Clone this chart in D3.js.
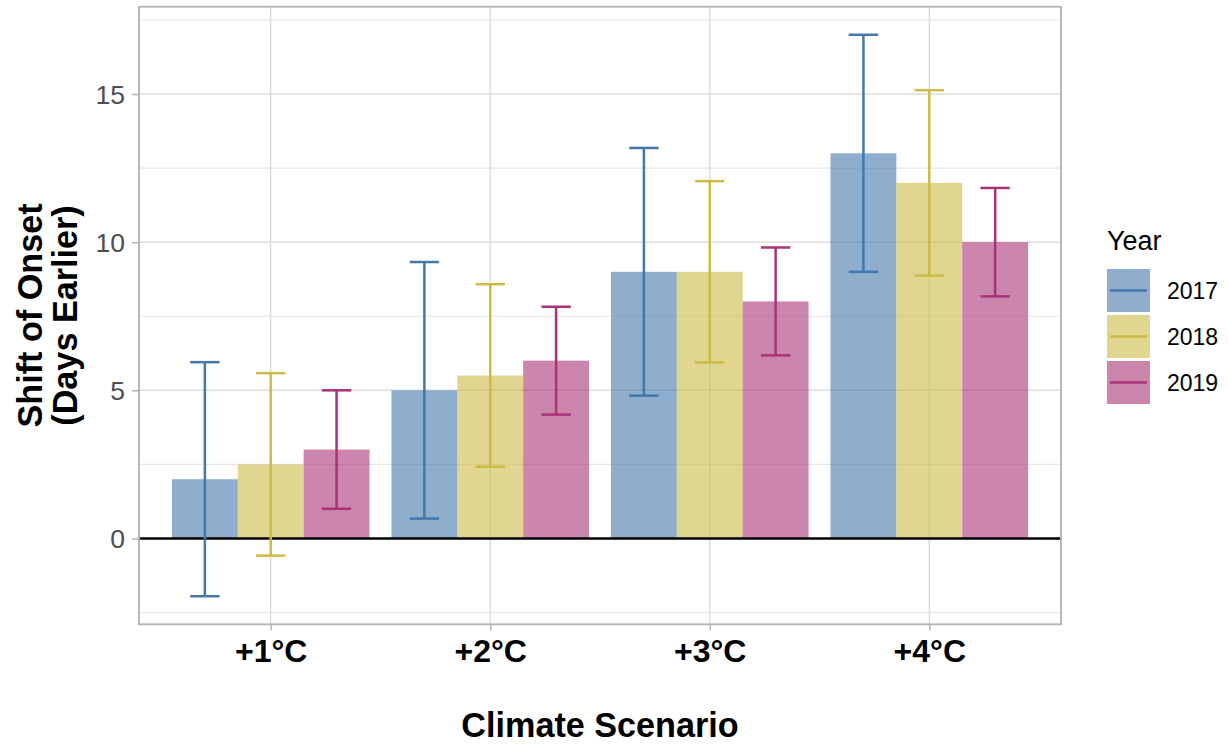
<!DOCTYPE html>
<html>
<head>
<meta charset="utf-8">
<script src="https://cdn.jsdelivr.net/npm/d3@7"></script>
<style>
  html, body { margin: 0; padding: 0; background: #fff; }
  svg { display: block; font-family: "Liberation Sans", Arial, Helvetica, sans-serif; }
</style>
</head>
<body>
<svg id="chart" width="1228" height="744"></svg>
<script>
// Climate scenarios on the x axis, one bar per year within each scenario
const scenarios = ["+1°C", "+2°C", "+3°C", "+4°C"];
const years = ["2017", "2018", "2019"];

// Mean shift of onset (days earlier), per year, in scenario order
const shift2017 = [2, 5, 9, 13];
const shift2018 = [2.5, 5.5, 9, 12];
const shift2019 = [3, 6, 8, 10];

// Error bar half-widths, per year, in scenario order
const err2017 = [3.95, 4.33, 4.18, 4.0];
const err2018 = [3.08, 3.08, 3.06, 3.13];
const err2019 = [2.0, 1.82, 1.82, 1.83];

const yTicks = [0, 5, 10, 15];
const yMinorTicks = [-2.5, 2.5, 7.5, 12.5, 17.5];

const yearColors = ["#4477aa", "#ccbb44", "#aa3377"];

const series = [
  { year: years[0], values: shift2017, errs: err2017 },
  { year: years[1], values: shift2018, errs: err2018 },
  { year: years[2], values: shift2019, errs: err2019 }
];

const rows = [];
series.forEach(s => {
  scenarios.forEach((sc, i) => {
    rows.push({ scenario: sc, year: s.year, value: s.values[i],
                lo: s.values[i] - s.errs[i], hi: s.values[i] + s.errs[i] });
  });
});

const svg = d3.select("#chart");
const panel = { left: 139, right: 1061, top: 6.7, bottom: 624.3 };

// y domain: data range (with zero) expanded by 5% on each side
const lo = Math.min(0, d3.min(rows, d => d.lo));
const hi = d3.max(rows, d => d.hi);
const pad = (hi - lo) * 0.05;
const y = d3.scaleLinear().domain([lo - pad, hi + pad]).range([panel.bottom, panel.top]);

// x: discrete scale with 0.6 category-step expansion on either side
const step = (panel.right - panel.left) / (scenarios.length - 1 + 1.2);
const x = d3.scalePoint().domain(scenarios)
  .range([panel.left + 0.6 * step, panel.right - 0.6 * step]);
const barTotal = 0.9 * step;
const xYear = d3.scaleBand().domain(years).range([-barTotal / 2, barTotal / 2]).padding(0);
const color = d3.scaleOrdinal().domain(years).range(yearColors);

const grid = svg.append("g");
// minor horizontal gridlines
grid.selectAll("line.minor").data(yMinorTicks).join("line")
  .attr("x1", panel.left).attr("x2", panel.right)
  .attr("y1", d => y(d)).attr("y2", d => y(d))
  .attr("stroke", "#e6e6e6").attr("stroke-width", 1.1);
// major horizontal gridlines
grid.selectAll("line.majorY").data(yTicks).join("line")
  .attr("x1", panel.left).attr("x2", panel.right)
  .attr("y1", d => y(d)).attr("y2", d => y(d))
  .attr("stroke", "#dedede").attr("stroke-width", 1.5);
// vertical gridlines at scenarios
grid.selectAll("line.majorX").data(scenarios).join("line")
  .attr("x1", d => x(d)).attr("x2", d => x(d))
  .attr("y1", panel.top).attr("y2", panel.bottom)
  .attr("stroke", "#dedede").attr("stroke-width", 1.5);

// bars
svg.append("g").selectAll("rect").data(rows).join("rect")
  .attr("x", d => x(d.scenario) + xYear(d.year))
  .attr("width", xYear.bandwidth())
  .attr("y", d => y(Math.max(0, d.value)))
  .attr("height", d => Math.abs(y(d.value) - y(0)))
  .attr("fill", d => color(d.year))
  .attr("fill-opacity", 0.6);

// zero reference line
svg.append("line")
  .attr("x1", panel.left).attr("x2", panel.right)
  .attr("y1", y(0)).attr("y2", y(0))
  .attr("stroke", "#000").attr("stroke-width", 2.6);

// error bars
const capW = 29.4;
const eb = svg.append("g").selectAll("g").data(rows).join("g")
  .attr("stroke", d => color(d.year)).attr("stroke-width", 2.5).attr("fill", "none");
eb.append("line")
  .attr("x1", d => x(d.scenario) + xYear(d.year) + xYear.bandwidth() / 2)
  .attr("x2", d => x(d.scenario) + xYear(d.year) + xYear.bandwidth() / 2)
  .attr("y1", d => y(d.lo)).attr("y2", d => y(d.hi));
["lo", "hi"].forEach(k => {
  eb.append("line")
    .attr("x1", d => x(d.scenario) + xYear(d.year) + xYear.bandwidth() / 2 - capW / 2)
    .attr("x2", d => x(d.scenario) + xYear(d.year) + xYear.bandwidth() / 2 + capW / 2)
    .attr("y1", d => y(d[k])).attr("y2", d => y(d[k]));
});

// panel border
svg.append("rect")
  .attr("x", panel.left).attr("y", panel.top)
  .attr("width", panel.right - panel.left).attr("height", panel.bottom - panel.top)
  .attr("fill", "none").attr("stroke", "#b3b3b3").attr("stroke-width", 1.8);

// y axis
const yAxis = svg.append("g")
  .attr("transform", `translate(${panel.left},0)`)
  .call(d3.axisLeft(y).tickValues(yTicks).tickSize(7).tickPadding(7).tickFormat(d3.format("d")));
yAxis.select(".domain").remove();
yAxis.selectAll(".tick line").attr("stroke", "#b3b3b3").attr("stroke-width", 1.5);
yAxis.selectAll(".tick text").attr("fill", "#4d4d4d")
  .style("font-size", "26.5px").attr("dy", "0.36em");

// x axis
const xAxis = svg.append("g")
  .attr("transform", `translate(0,${panel.bottom})`)
  .call(d3.axisBottom(x).tickSize(6).tickPadding(10));
xAxis.select(".domain").remove();
xAxis.selectAll(".tick line").attr("stroke", "#b3b3b3").attr("stroke-width", 1.5);
xAxis.selectAll(".tick text").attr("fill", "#000")
  .style("font-size", "32px").style("font-weight", "bold")
  .attr("y", 0).attr("dy", 0)
  .attr("transform", "translate(0,37.6)");

// axis titles
svg.append("text")
  .attr("x", (panel.left + panel.right) / 2).attr("y", 737)
  .attr("text-anchor", "middle")
  .style("font-size", "34.2px").style("font-weight", "bold")
  .text("Climate Scenario");

const yTitle = svg.append("text")
  .attr("transform", `translate(0,${(panel.top + panel.bottom) / 2}) rotate(-90)`)
  .attr("text-anchor", "middle")
  .style("font-size", "34.2px").style("font-weight", "bold");
yTitle.append("tspan").attr("x", 0).attr("y", 41.5).text("Shift of Onset");
yTitle.append("tspan").attr("x", 0).attr("y", 77).text("(Days Earlier)");

// legend
const legend = svg.append("g").attr("transform", "translate(1107,0)");
legend.append("text").attr("x", 0).attr("y", 250)
  .style("font-size", "27px").attr("fill", "#000").text("Year");
const keys = legend.selectAll("g.key").data(years).join("g")
  .attr("transform", (d, i) => `translate(0,${269 + i * 46})`);
keys.append("rect")
  .attr("width", 43).attr("height", 43)
  .attr("fill", d => color(d)).attr("fill-opacity", 0.6);
keys.append("line")
  .attr("x1", 3).attr("x2", 40).attr("y1", 21.5).attr("y2", 21.5)
  .attr("stroke", d => color(d)).attr("stroke-width", 2.5);
keys.append("text")
  .attr("x", 60).attr("y", 21.5).attr("dy", "0.36em")
  .style("font-size", "23px").attr("fill", "#000")
  .text(d => d);
</script>
</body>
</html>
